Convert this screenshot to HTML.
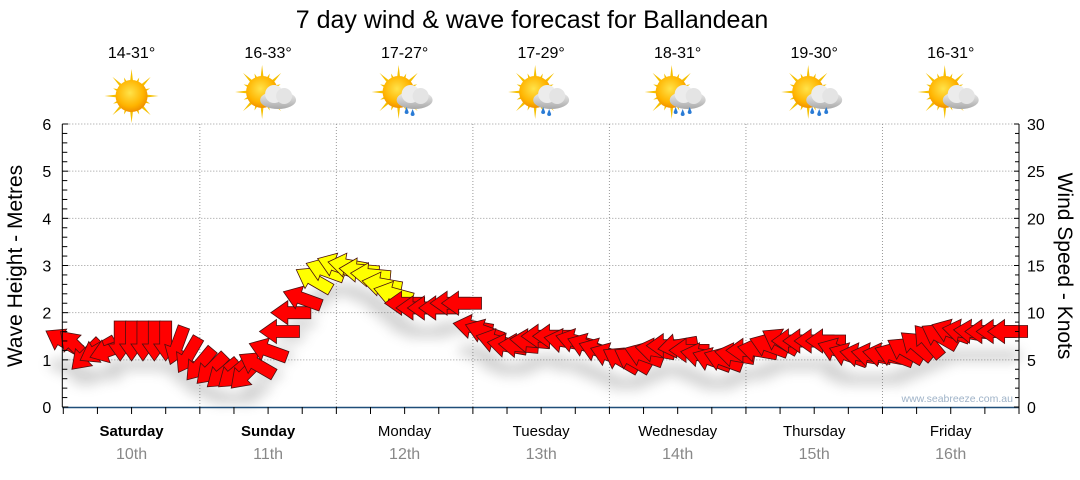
<!DOCTYPE html>
<html><head><meta charset="utf-8">
<style>
html,body{margin:0;padding:0;background:#fff;}
body{width:1080px;height:475px;overflow:hidden;font-family:"Liberation Sans","DejaVu Sans",sans-serif;}
</style></head>
<body>
<svg id="chart" width="1080" height="475" viewBox="0 0 1080 475" xmlns="http://www.w3.org/2000/svg" font-family="Liberation Sans, DejaVu Sans, sans-serif">
<defs>
<filter id="sh" x="-50%" y="-50%" width="200%" height="200%"><feGaussianBlur stdDeviation="6"/></filter>
<radialGradient id="sunG" cx="45%" cy="40%" r="60%"><stop offset="0" stop-color="#ffe34a"/><stop offset="0.7" stop-color="#ffb400"/><stop offset="1" stop-color="#f09000"/></radialGradient>
<linearGradient id="cloudG" x1="0" y1="0" x2="0" y2="1"><stop offset="0" stop-color="#f2f2f2"/><stop offset="1" stop-color="#a9a9a9"/></linearGradient>
</defs>
<text x="532" y="28" font-size="25" text-anchor="middle" fill="#000">7 day wind &amp; wave forecast for Ballandean</text>
<g id="grid"></g>
<g id="icons"></g>
<g id="shadow" filter="url(#sh)" opacity="0.25"></g>
<g id="arrows"></g>
<g id="axes"></g>
<text transform="translate(22,266) rotate(-90)" font-size="21" text-anchor="middle">Wave Height - Metres</text>
<text transform="translate(1058,266) rotate(90)" font-size="21" text-anchor="middle">Wind Speed - Knots</text>
<text x="1013" y="402" font-size="10.5" text-anchor="end" fill="#9fb3c8">www.seabreeze.com.au</text>
</svg>
<script>
const dayNames=["Saturday","Sunday","Monday","Tuesday","Wednesday","Thursday","Friday"];
const dayDates=["10th","11th","12th","13th","14th","15th","16th"];
const temps=["14-31°","16-33°","17-27°","17-29°","18-31°","19-30°","16-31°"];
const icons=["sun","partly","rain","rain","showers","showers","partly"];
const leftTicks=[0,1,2,3,4,5,6];
const rightTicks=[0,5,10,15,20,25,30];
// wind speed (knots), every 2 hours
const windSpeed=[7,6.5,5.5,6,6,7,7,7,7,7,6.5,5.5,
4.5,4,3.5,3.5,3.5,4.5,6,8,10,11.5,13.5,14.5,
15,15,14.5,14,13,12,11,10.5,10.5,10.5,11,11,
8.5,8,7,6.5,6.5,7,7.5,7.5,7,7,6.5,6,
5.5,5,5,5.5,6,6.5,6.5,6,5.5,5,5,5.5,
6,6,6.5,7,7,7,7,7,6,5.5,5.5,5.5,
5.5,5.5,6,6.5,7,7.5,8,8,8,8,8,8];
// arrow direction on screen (deg, 0=right, 90=down, 180=left)
const windDir=[210,225,135,150,160,90,90,90,90,90,110,120,
130,135,140,140,135,210,200,180,180,200,210,200,
200,190,185,185,190,195,180,180,180,180,180,180,
190,200,195,190,185,185,180,180,190,195,200,200,
200,210,210,200,190,180,170,180,190,200,200,190,
180,190,200,210,180,180,180,180,200,200,190,190,
190,200,210,220,230,210,200,190,185,180,180,180];
const NS="http://www.w3.org/2000/svg";
const X0=63.3,X1=1019,Y0=407,Y1=124;
const dayW=(X1-X0)/7;
function xT(h){return X0+h*dayW/24;}
function yL(m){return Y0-m*(Y0-Y1)/6;}
function yR(k){return Y0-k*(Y0-Y1)/30;}
function mk(tag,attrs,parent){const e=document.createElementNS(NS,tag);for(const k in attrs)e.setAttribute(k,attrs[k]);parent.appendChild(e);return e;}
const grid=document.getElementById('grid'),axes=document.getElementById('axes'),ic=document.getElementById('icons');
leftTicks.forEach(v=>{if(v>0){const l=mk('line',{x1:X0,x2:X1,y1:yL(v),y2:yL(v),stroke:'#999','stroke-dasharray':'1,2'},grid);

}});
for(let d=1;d<=7;d++){const l=mk('line',{x1:X0+d*dayW,x2:X0+d*dayW,y1:Y1,y2:Y0,stroke:'#999','stroke-dasharray':'1,2'},grid);

}
mk('line',{x1:X0-1,x2:X0-1,y1:Y1,y2:Y0,stroke:'#000'},axes);
mk('line',{x1:X1,x2:X1,y1:Y1,y2:Y0,stroke:'#000'},axes);
mk('line',{x1:X0-1,x2:X1,y1:Y0+0.5,y2:Y0+0.5,stroke:'#1f4e79','stroke-width':1.5},axes);
for(let i=0;i<=30;i++){const y=Y0-i*(Y0-Y1)/30;const major=i%5==0;
mk('line',{x1:X0-1,x2:X0+(major?5:4),y1:y,y2:y,stroke:'#000'},axes);
mk('line',{x1:X1-(major?5:4),x2:X1,y1:y,y2:y,stroke:'#000'},axes);}
leftTicks.forEach(v=>{const t=mk('text',{x:X0-12,y:yL(v)+6,'font-size':16,'text-anchor':'end'},axes);t.textContent=v;

});
rightTicks.forEach(v=>{const t=mk('text',{x:X1+8,y:yR(v)+6,'font-size':16},axes);t.textContent=v;

});
for(let h=0;h<=168;h+=6){mk('line',{x1:xT(h),x2:xT(h),y1:Y0,y2:Y0+7,stroke:'#000'},axes);}
dayNames.forEach((n,i)=>{const cx=X0+(i+0.5)*dayW;
const t=mk('text',{x:cx,y:436,'font-size':15,'text-anchor':'middle','font-weight':i<2?'bold':'normal'},axes);t.textContent=n;


const d=mk('text',{x:cx,y:459,'font-size':16,'text-anchor':'middle',fill:'#888'},axes);d.textContent=dayDates[i];


const tt=mk('text',{x:cx,y:58,'font-size':16,'text-anchor':'middle'},ic);tt.textContent=temps[i];


const g=mk('g',{transform:`translate(${cx},96)`},ic);


const sx=icons[i]=='sun'?0:-6, sy=icons[i]=='sun'?0:-4;
for(let r=0;r<16;r++){const a=r*Math.PI/8,L=r%2?20:27;
mk('polygon',{points:`${sx+Math.cos(a-0.13)*13},${sy+Math.sin(a-0.13)*13} ${sx+Math.cos(a)*L},${sy+Math.sin(a)*L} ${sx+Math.cos(a+0.13)*13},${sy+Math.sin(a+0.13)*13}`,fill:'#f5c000'},g);}
mk('circle',{cx:sx,cy:sy,r:16,fill:'url(#sunG)'},g);
if(icons[i]!='sun'){
mk('ellipse',{cx:10,cy:4,rx:18,ry:9,fill:'url(#cloudG)'},g);
mk('circle',{cx:6,cy:-2,r:9,fill:'#ececec'},g);
mk('circle',{cx:16,cy:0,r:8,fill:'#e4e4e4'},g);
if(icons[i]!='partly'){const drops=icons[i]=='rain'?[[2,16],[8,18]]:[[-2,16],[5,18],[12,16]];
drops.forEach(p=>mk('path',{d:`M${p[0]},${p[1]-5} l-2,5 a2,2 0 0 0 4,0 z`,fill:'#2a7bd5'},g));}}
});
const ag=document.getElementById('arrows'),sg=document.getElementById('shadow');
const shape="M-20,-6 L3,-6 L3,-12 L20,0 L3,12 L3,6 L-20,6 Z";
windSpeed.forEach((v,i)=>{const x=xT(i*2),y=yR(v);
const sh=mk('ellipse',{cx:x,cy:y+24,rx:15,ry:6,fill:'#555'},sg);


const p=mk('path',{d:shape,transform:`translate(${x},${y}) rotate(${windDir[i]})`,fill:v>=12?'#ffff00':'#ff0000',stroke:'#4a1010','stroke-width':0.8},ag);

});
</script>
</body></html>
